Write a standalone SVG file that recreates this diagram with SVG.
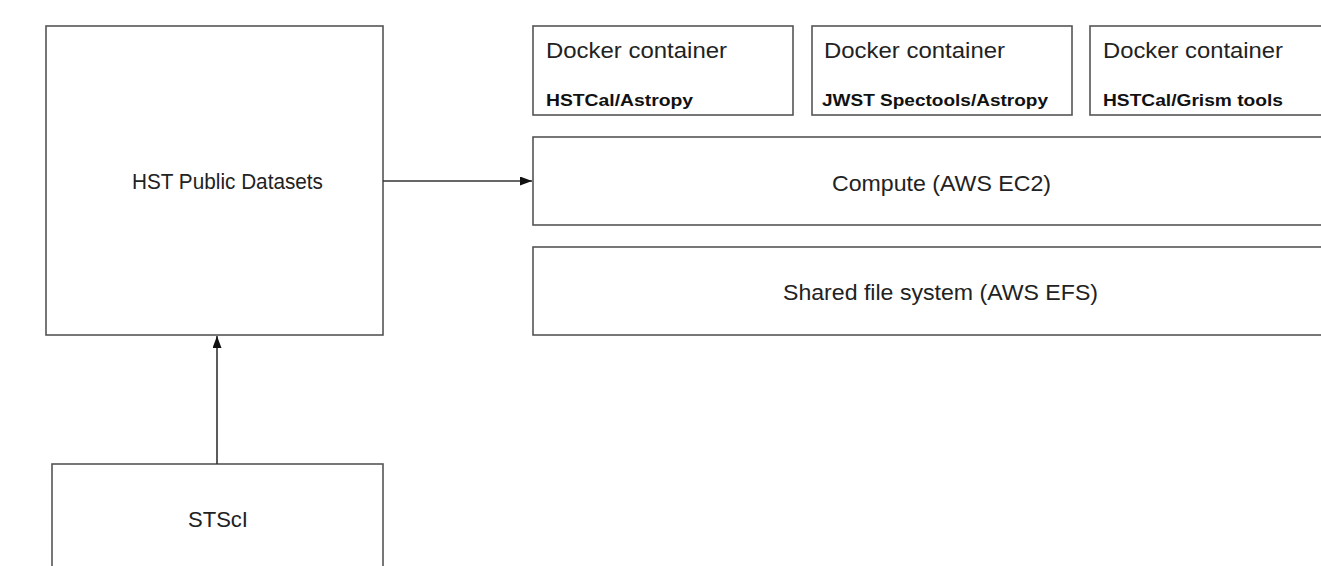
<svg xmlns="http://www.w3.org/2000/svg" width="1321" height="566" viewBox="0 0 1321 566">
<style>
.box{fill:#fff;stroke:#555;stroke-width:1.6}
.t{font-family:"Liberation Sans",Arial,sans-serif;fill:#222}
.lg{font-size:22px}
.b{font-size:16px;font-weight:bold;fill:#111}
.c{stroke:#333;stroke-width:1.6;fill:none}
</style>
<defs>
<marker id="ah" markerWidth="12" markerHeight="9" refX="12" refY="4.5" orient="auto" markerUnits="userSpaceOnUse">
<path d="M0,0 L12,4.5 L0,9 Z" fill="#111"/>
</marker>
</defs>
<rect width="1321" height="566" fill="#fff"/>
<g id="hst">
<rect class="box" x="46" y="26" width="337" height="309"/>
<text class="t lg" x="132" y="189" textLength="191" lengthAdjust="spacingAndGlyphs">HST Public Datasets</text>
</g>
<g id="stsci">
<rect class="box" x="52" y="464" width="331" height="120"/>
<text class="t lg" x="188" y="527" textLength="60" lengthAdjust="spacingAndGlyphs">STScI</text>
</g>
<g id="docker1">
<rect class="box" x="533" y="26" width="260" height="89"/>
<text class="t lg" x="546" y="58" textLength="181" lengthAdjust="spacingAndGlyphs">Docker container</text>
<text class="t b" x="546" y="106" textLength="147" lengthAdjust="spacingAndGlyphs">HSTCal/Astropy</text>
</g>
<g id="docker2">
<rect class="box" x="812" y="26" width="260" height="89"/>
<text class="t lg" x="824" y="58" textLength="181" lengthAdjust="spacingAndGlyphs">Docker container</text>
<text class="t b" x="822" y="106" textLength="226" lengthAdjust="spacingAndGlyphs">JWST Spectools/Astropy</text>
</g>
<g id="docker3">
<rect class="box" x="1090" y="26" width="260" height="89"/>
<text class="t lg" x="1103" y="58" textLength="180" lengthAdjust="spacingAndGlyphs">Docker container</text>
<text class="t b" x="1103" y="106" textLength="180" lengthAdjust="spacingAndGlyphs">HSTCal/Grism tools</text>
</g>
<g id="compute">
<rect class="box" x="533" y="137" width="820" height="88"/>
<text class="t lg" x="832" y="191" textLength="219" lengthAdjust="spacingAndGlyphs">Compute (AWS EC2)</text>
</g>
<g id="efs">
<rect class="box" x="533" y="247" width="820" height="88"/>
<text class="t lg" x="783" y="300" textLength="315" lengthAdjust="spacingAndGlyphs">Shared file system (AWS EFS)</text>
</g>
<g id="connectors">
<line class="c" x1="383" y1="181" x2="532" y2="181" marker-end="url(#ah)"/>
<line class="c" x1="217" y1="464" x2="217" y2="336" marker-end="url(#ah)"/>
</g>
</svg>
